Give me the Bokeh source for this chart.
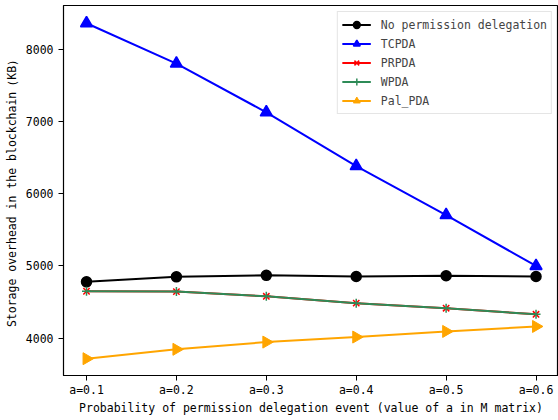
from bokeh.plotting import figure
from bokeh.models import Range1d, FixedTicker, Legend
from bokeh.embed import file_html
from bokeh.resources import INLINE

categories = ["a=0.1", "a=0.2", "a=0.3", "a=0.4", "a=0.5", "a=0.6"]
no_delegation = [4780, 4850, 4870, 4855, 4865, 4855]
tcpda = [8365, 7805, 7130, 6385, 5705, 5000]
prpda = [4650, 4645, 4580, 4485, 4415, 4330]
wpda = [4650, 4645, 4580, 4485, 4415, 4330]
pal_pda = [3715, 3845, 3945, 4015, 4093, 4162]
y_ticks = [4000, 5000, 6000, 7000, 8000]

FONT = "DejaVu Sans Mono"
FS = "11.5px"

xs = list(range(len(categories)))

p = figure(width=558, height=420, output_backend="svg", toolbar_location=None,
           x_range=Range1d(-0.256, 5.25), y_range=Range1d(3482, 8611),
           min_border_left=63, min_border_right=0, min_border_top=5, min_border_bottom=45)
p.xgrid.visible = False
p.ygrid.visible = False
p.outline_line_color = "black"
p.outline_line_width = 1.2

series = [
    ("No permission delegation", no_delegation, "black", "circle", 10),
    ("TCPDA", tcpda, "blue", "triangle", 12),
    ("PRPDA", prpda, "red", "x", 9),
    ("WPDA", wpda, "seagreen", "cross", 9),
    ("Pal_PDA", pal_pda, "orange", "triangle", 12),
]

legend_items = []
for name, ys, color, marker, size in series:
    r1 = p.line(xs, ys, line_color=color, line_width=2)
    if name == "Pal_PDA":
        r2 = p.scatter(xs, ys, marker=marker, size=size, fill_color=color,
                       line_color=color, angle=-1.5708)
    else:
        r2 = p.scatter(xs, ys, marker=marker, size=size, fill_color=color,
                       line_color=color, line_width=1.5)
    legend_items.append((name, [r1, r2]))

legend = Legend(items=legend_items, location="top_right")
legend.label_text_font = FONT
legend.label_text_font_size = FS
legend.glyph_width = 29
legend.glyph_height = 17
legend.label_height = 17
legend.label_standoff = 10
legend.spacing = 2
legend.padding = 4
legend.margin = 6
legend.border_line_color = "#cccccc"
legend.border_line_width = 1
legend.background_fill_alpha = 0.8
p.add_layout(legend)

p.xaxis.ticker = FixedTicker(ticks=xs)
p.xaxis.major_label_overrides = {i: c for i, c in enumerate(categories)}
p.yaxis.ticker = FixedTicker(ticks=y_ticks)

for ax in (p.xaxis, p.yaxis):
    ax.major_label_text_font = FONT
    ax.major_label_text_font_size = FS
    ax.axis_label_text_font = FONT
    ax.axis_label_text_font_size = FS
    ax.axis_label_text_font_style = "normal"
    ax.minor_tick_line_color = None
    ax.major_tick_out = 5
    ax.major_tick_in = 0
    ax.axis_line_color = "black"
    ax.major_label_text_color = "black"
    ax.axis_label_text_color = "black"

p.xaxis.axis_label = "Probability of permission delegation event (value of a in M matrix)"
p.yaxis.axis_label = "Storage overhead in the blockchain（KB）"
p.xaxis.major_label_standoff = 2
p.xaxis.axis_label_standoff = 1
p.yaxis.major_label_standoff = 5
p.yaxis.axis_label_standoff = 4

open("out.html", "w").write(file_html(p, INLINE))
